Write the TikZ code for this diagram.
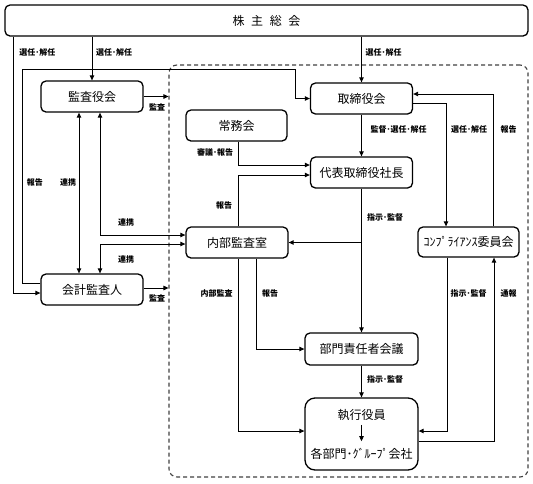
\documentclass[tikz,border=0pt]{standalone}
\usepackage{fontspec}
\setmainfont{Noto Sans CJK JP}
\usetikzlibrary{arrows.meta,calc}
\begin{document}
\begin{tikzpicture}[x=1pt,y=-1pt,
  box/.style={draw, line width=1.3pt, rounded corners=5pt, inner sep=0pt,
    font=\fontsize{12}{13}\selectfont},
  lab/.style={inner sep=0pt, font=\fontsize{8}{9}\selectfont\bfseries},
  ln/.style={line width=0.9pt},
  arr/.style={ln, -{Triangle[length=5pt,width=4.5pt]}},
  darr/.style={ln, {Triangle[length=5pt,width=4.5pt]}-{Triangle[length=5pt,width=4.5pt]}},
  grpbox/.style={draw=black!75, line width=1.1pt, dash pattern=on 4pt off 3pt, rounded corners=8pt, inner sep=0pt}
]
\useasboundingbox (0,0) rectangle (533,483);
% group
\node[grpbox, minimum width=359pt, minimum height=412pt] (grp) at (348.5,271) {};
% boxes
\node[box, minimum width=523pt, minimum height=31pt] (top) at (266.5,20.5) {株\hspace{0.55em}主\hspace{0.55em}総\hspace{0.55em}会};
\node[box, minimum width=102pt, minimum height=31pt] (kansa) at (92,96.5) {監査役会};
\node[box, minimum width=102pt, minimum height=31pt] (tori) at (361.5,98.5) {取締役会};
\node[box, minimum width=101pt, minimum height=31pt] (jomu) at (236.5,125.5) {常務会};
\node[box, minimum width=102pt, minimum height=31pt] (daihyo) at (361.5,172.5) {代表取締役社長};
\node[box, minimum width=102pt, minimum height=31pt] (naibu) at (237,242.5) {内部監査室};
\node[box, minimum width=101pt, minimum height=30pt] (comp) at (468.5,242) {ｺﾝﾌﾟﾗｲｱﾝｽ委員会};
\node[box, minimum width=102pt, minimum height=31pt] (kaikei) at (92,289.5) {会計監査人};
\node[box, minimum width=113pt, minimum height=32pt] (bumon) at (361.5,349) {部門責任者会議};
\node[box, rounded corners=10pt, minimum width=113pt, minimum height=72pt] (shikko) at (361.5,434) {};
\node[inner sep=0pt, font=\fontsize{12}{13}\selectfont] (shA) at (361.5,415) {執行役員};
\node[inner sep=0pt, font=\fontsize{12}{13}\selectfont] (shB) at (361.5,454) {各部門･ｸﾞﾙｰﾌﾟ会社};
\draw[arr, shorten <=4pt, shorten >=7pt] (shA.south) -- (shB.north);
% helper coordinates
\coordinate (L1) at (13,0);
\coordinate (L2) at (22,69);
\coordinate (L3) at (295,69);
% connectors
\draw[arr] (top.south -| kansa.north) -- (kansa.north);
\draw[arr] (top.south -| tori.north) -- (tori.north);
\draw[arr] (top.south -| L1) |- ([yshift=-3.5pt]kaikei.west);
\draw[arr] ([yshift=6.5pt]kaikei.west) -| (L2) -- (L3) |- (tori.west);
\draw[arr] (kansa.east) -- (kansa.east -| grp.west);
\draw[arr] ([yshift=1.5pt]kaikei.east) -- ([yshift=1.5pt]kaikei.east -| grp.west);
\draw[darr] ([xshift=-13pt]kansa.south) -- ([xshift=-13pt]kaikei.north);
\draw[darr] ([xshift=8pt]kansa.south) |- ([yshift=7.5pt]naibu.west);
\draw[darr] ([xshift=8pt]kaikei.north) |- ([yshift=-1.5pt]naibu.west);
\draw[arr] ([xshift=1.5pt]jomu.south) |- ([yshift=7.5pt]daihyo.west);
\draw[arr] ([xshift=1pt]naibu.north) |- ([yshift=-2.5pt]daihyo.west);
\draw[arr] (tori.south) -- (daihyo.north);
\draw[arr] ([yshift=-4.5pt]tori.east) -| ([xshift=-22.5pt]comp.north);
\draw[arr] ([xshift=24.5pt]comp.north) |- ([yshift=4.5pt]tori.east);
\draw[arr] (daihyo.south) -- (bumon.north);
\draw[arr] (daihyo.south |- naibu.east) -- (naibu.east);
\draw[arr] ([xshift=19pt]naibu.south) |- (bumon.west);
\draw[arr] ([xshift=1pt]naibu.south) |- ([yshift=3pt]shikko.west);
\draw[arr] (bumon.south) -- (shikko.north);
\draw[arr] ([xshift=-21.5pt]comp.south) |- ([yshift=3pt]shikko.east);
\draw[arr] ([yshift=-7pt]shikko.east) -| ([xshift=25.5pt]comp.south);
% labels
\node[lab] (l1) at (37.5,52) {選任･解任};
\node[lab] (l2) at (114,52) {選任･解任};
\node[lab] (l3) at (383.5,52) {選任･解任};
\node[lab] (l4) at (157,107) {監査};
\node[lab] (l5) at (157,298) {監査};
\node[lab] (l6) at (35,182) {報告};
\node[lab] (l7) at (68,182) {連携};
\node[lab] (l8) at (126,222) {連携};
\node[lab] (l9) at (126,259) {連携};
\node[lab] (l10) at (215,152) {審議･報告};
\node[lab] (l11) at (224,205) {報告};
\node[lab] (l12) at (398.5,129) {監督･選任･解任};
\node[lab] (l13) at (469,129) {選任･解任};
\node[lab] (l14) at (508.5,129) {報告};
\node[lab] (l15) at (385,217) {指示･監督};
\node[lab] (l16) at (216.5,293) {内部監査};
\node[lab] (l17) at (270,293) {報告};
\node[lab] (l18) at (468.5,293) {指示･監督};
\node[lab] (l19) at (508.5,293) {通報};
\node[lab] (l20) at (385,379) {指示･監督};
\end{tikzpicture}
\end{document}
